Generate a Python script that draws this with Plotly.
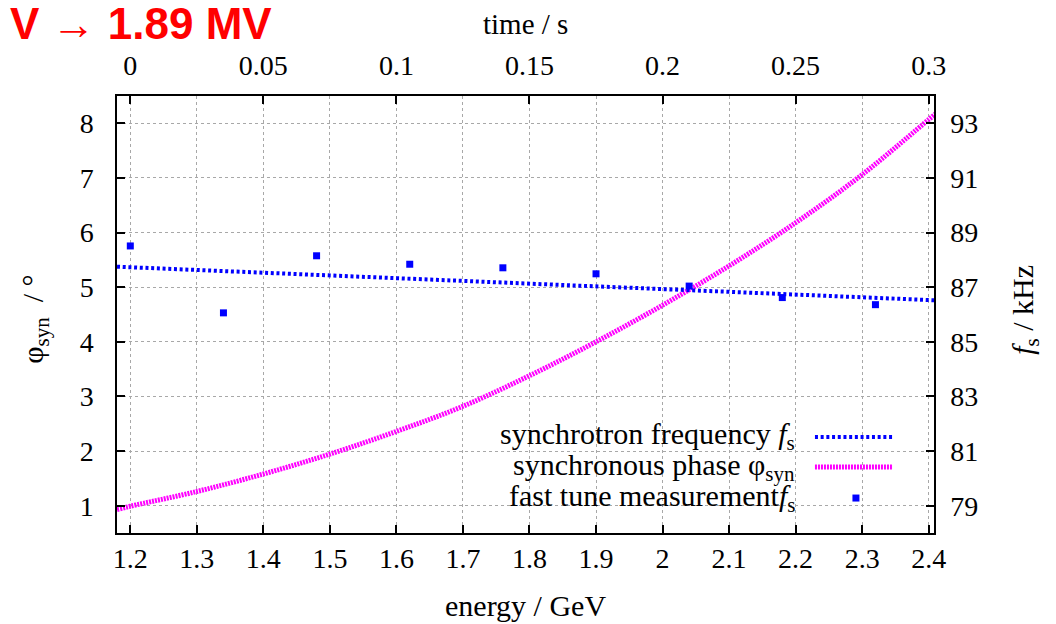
import plotly.graph_objects as go

# ---- data ----
energy_phase = [1.18, 1.2, 1.3, 1.4, 1.5, 1.6, 1.7, 1.8, 1.9, 2.0, 2.1, 2.2, 2.3, 2.4, 2.41]
phase_deg = [0.93, 0.99, 1.26, 1.58, 1.945, 2.36, 2.82, 3.38, 4.0, 4.67, 5.39, 6.18, 7.06, 8.07, 8.17]

energy_fs = [1.18, 1.4, 1.6, 1.8, 2.0, 2.2, 2.41]
fs_khz = [87.75, 87.53, 87.33, 87.13, 86.93, 86.73, 86.52]

meas_energy = [1.2, 1.34, 1.48, 1.62, 1.76, 1.90, 2.04, 2.18, 2.32]
meas_fs = [88.51, 86.06, 88.15, 87.84, 87.71, 87.49, 87.04, 86.62, 86.36]

energy_ticks = [1.2, 1.3, 1.4, 1.5, 1.6, 1.7, 1.8, 1.9, 2.0, 2.1, 2.2, 2.3, 2.4]
energy_ticktext = ["1.2", "1.3", "1.4", "1.5", "1.6", "1.7", "1.8", "1.9", "2", "2.1", "2.2", "2.3", "2.4"]
time_ticks = [0, 0.05, 0.1, 0.15, 0.2, 0.25, 0.3]
time_ticktext = ["0", "0.05", "0.1", "0.15", "0.2", "0.25", "0.3"]
phase_ticks = [1, 2, 3, 4, 5, 6, 7, 8]
fs_ticks = [79, 81, 83, 85, 87, 89, 91, 93]

legend_labels = ["synchrotron frequency <i>f</i><sub>s</sub>",
                 "synchronous phase φ<sub>syn</sub>",
                 "fast tune measurement<i>f</i><sub>s</sub>"]

E_RANGE = [1.18, 2.408]
T_RANGE = [(E_RANGE[0] - 1.2) / 4, (E_RANGE[1] - 1.2) / 4]
PHI_RANGE = [0.5, 8.5]
FS_RANGE = [78, 94]

BLUE = "#0000ff"
MAGENTA = "#ff00ff"
SERIF = "Liberation Serif"
TICK_FS = 28
TXT_FS = 30
BLUE_LINE = dict(color=BLUE, width=4, dash="3px,2.7px")
MAG_LINE = dict(color=MAGENTA, width=5, dash="2px,1px")

fig = go.Figure()
fig.add_trace(go.Scatter(x=energy_fs, y=fs_khz, xaxis="x", yaxis="y2", mode="lines",
                         line=BLUE_LINE, showlegend=False, hoverinfo="skip"))
fig.add_trace(go.Scatter(x=energy_phase, y=phase_deg, xaxis="x", yaxis="y", mode="lines",
                         line=dict(MAG_LINE, shape="spline"), showlegend=False, hoverinfo="skip"))
fig.add_trace(go.Scatter(x=meas_energy, y=meas_fs, xaxis="x", yaxis="y2", mode="markers",
                         marker=dict(color=BLUE, size=7, symbol="square"),
                         showlegend=False, hoverinfo="skip"))
# invisible trace to anchor top time axis
fig.add_trace(go.Scatter(x=[time_ticks[0]], y=[None], xaxis="x2", yaxis="y", mode="markers",
                         showlegend=False, hoverinfo="skip"))

# key swatches on a hidden unit overlay axis (0..1 over plot area)
KEY_X = [0.8543, 0.9498]
KEY_Y = [0.2197, 0.151, 0.080]
fig.add_trace(go.Scatter(x=KEY_X, y=[KEY_Y[0]] * 2, xaxis="x3", yaxis="y3", mode="lines",
                         line=BLUE_LINE, showlegend=False, hoverinfo="skip"))
fig.add_trace(go.Scatter(x=KEY_X, y=[KEY_Y[1]] * 2, xaxis="x3", yaxis="y3", mode="lines",
                         line=MAG_LINE, showlegend=False, hoverinfo="skip"))
fig.add_trace(go.Scatter(x=[sum(KEY_X) / 2 + 0.0024], y=[KEY_Y[2]], xaxis="x3", yaxis="y3",
                         mode="markers", marker=dict(color=BLUE, size=7, symbol="square"),
                         showlegend=False, hoverinfo="skip"))

axis_common = dict(showline=True, linecolor="black", linewidth=1.5, zeroline=False,
                   ticks="inside", ticklen=8, tickwidth=1.5, tickcolor="black",
                   tickfont=dict(family=SERIF, size=TICK_FS, color="black"))

fig.update_layout(
    width=1048, height=616,
    margin=dict(l=109, r=122, t=88, b=91),
    paper_bgcolor="white", plot_bgcolor="white",
    showlegend=False,
    xaxis=dict(range=E_RANGE, tickvals=energy_ticks, ticktext=energy_ticktext,
               showgrid=True, gridcolor="#a8a8a8", griddash="dot", gridwidth=1,
               side="bottom", anchor="y", ticklabelstandoff=0, **axis_common),
    xaxis2=dict(range=T_RANGE, tickvals=time_ticks, ticktext=time_ticktext,
                overlaying="x", side="top", anchor="y", showgrid=False,
                ticklabelstandoff=8, **axis_common),
    yaxis=dict(range=PHI_RANGE, tickvals=phase_ticks,
               showgrid=True, gridcolor="#a8a8a8", griddash="dot", gridwidth=1,
               side="left", anchor="x", ticklabelstandoff=16, **axis_common),
    yaxis2=dict(range=FS_RANGE, tickvals=fs_ticks, overlaying="y", side="right",
                anchor="x", showgrid=False, ticklabelstandoff=9, **axis_common),
    xaxis3=dict(range=[0, 1], overlaying="x", anchor="y3", visible=False, fixedrange=True),
    yaxis3=dict(range=[0, 1], overlaying="y", anchor="x3", visible=False, fixedrange=True),
)

# opaque key background (between grid and traces)
fig.add_shape(type="rect", xref="paper", yref="paper", x0=0.3256, x1=0.973, y0=0.048, y1=0.263,
              fillcolor="white", line=dict(width=0), layer="between")

# key text
key_font = dict(family=SERIF, size=TXT_FS, color="black")
for txt, yy in zip(legend_labels, [0.221, 0.152, 0.081]):
    fig.add_annotation(text=txt, xref="paper", yref="paper", x=0.8323, y=yy,
                       xanchor="right", yanchor="middle", showarrow=False, font=key_font)

# axis titles
fig.add_annotation(text="energy / GeV", xref="paper", yref="paper", x=0.5, y=-0.165,
                   xanchor="center", yanchor="middle", showarrow=False, font=key_font)
fig.add_annotation(text="time / s", xref="paper", yref="paper", x=0.5, y=1.165,
                   xanchor="center", yanchor="middle", showarrow=False,
                   font=dict(family=SERIF, size=29, color="black"))
fig.add_annotation(text="φ<sub>syn</sub>  / °", xref="paper", yref="paper", x=-0.1004, y=0.49,
                   xanchor="center", yanchor="middle", textangle=-90, showarrow=False, font=key_font)
fig.add_annotation(text="<i>f</i><sub>s</sub> / kHz", xref="paper", yref="paper", x=1.111, y=0.51,
                   xanchor="center", yanchor="middle", textangle=-90, showarrow=False, font=key_font)

# headline
fig.add_annotation(text="<b>V → 1.89 MV</b>", xref="paper", yref="paper", x=-109 / 817, y=1.167,
                   xanchor="left", yanchor="middle", showarrow=False,
                   font=dict(family="Liberation Sans", size=44, color="#ff0000"))

fig.write_html("out.html")
